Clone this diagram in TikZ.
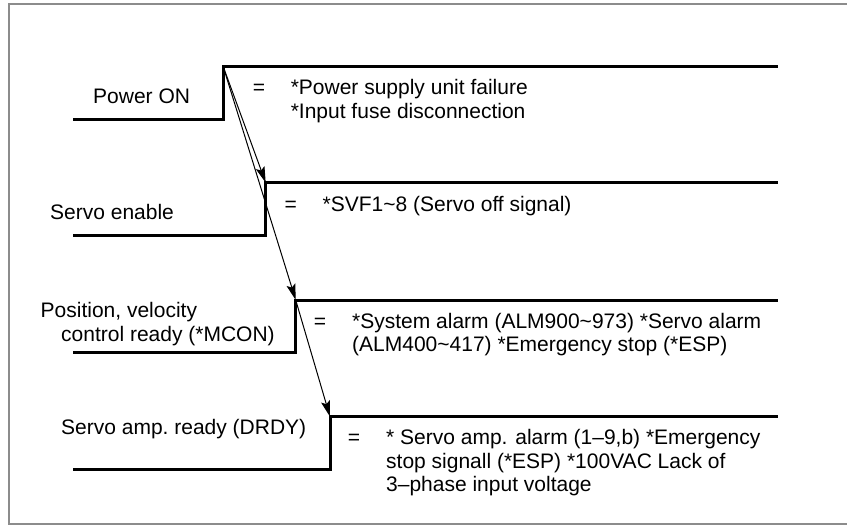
\documentclass[tikz,border=0pt]{standalone}
\usepackage{fontspec}
\setmainfont{Liberation Sans}
\usetikzlibrary{arrows.meta}
\begin{document}
\begin{tikzpicture}[x=1pt,y=-1pt,
  sig/.style={line width=3pt,line cap=butt,line join=miter},
  arr/.style={line width=1pt,-{Stealth[length=16pt,width=9pt,inset=3pt]}},
  frame/.style={draw=black!45,line width=2pt},
  txt/.style={inner sep=0pt,anchor=base west,align=left,font=\fontsize{21}{23.5}\selectfont},
  eq/.style={inner sep=0pt,anchor=base,font=\fontsize{21}{23.5}\selectfont}]
\useasboundingbox (0,0) rectangle (847,525);
\draw[frame] (9,860) -- (9,4) -- (860,4);
\draw[frame] (9,524) -- (860,524);
% signal 1: Power ON
\coordinate (a0) at (73,119);
\coordinate (a1) at (223,119);
\coordinate (a2) at (223,66);
\coordinate (a3) at (778,66);
\draw[sig] (a0) -- (a1) -- (a2) -- (a3);
% signal 2: Servo enable
\coordinate (b0) at (73,235.5);
\coordinate (b1) at (265.7,235.5);
\coordinate (b2) at (265.7,182.7);
\coordinate (b3) at (778,182.7);
\draw[sig] (b0) -- (b1) -- (b2) -- (b3);
% signal 3: Position, velocity control ready
\coordinate (c0) at (73,352.3);
\coordinate (c1) at (295.7,352.3);
\coordinate (c2) at (295.7,300);
\coordinate (c3) at (778,300);
\draw[sig] (c0) -- (c1) -- (c2) -- (c3);
% signal 4: Servo amp. ready
\coordinate (d0) at (73,469.3);
\coordinate (d1) at (330,469.3);
\coordinate (d2) at (330,416.7);
\coordinate (d3) at (778,416.7);
\draw[sig] (d0) -- (d1) -- (d2) -- (d3);
% arrows
\draw[arr] (a2) -- (b2);
\draw[arr] (a2) -- (c2);
\draw[arr] (c2) -- (d2);
% labels (base = baseline of the last line)
\node[txt] (la) at (93,103) {Power ON};
\node[txt] (lb) at (50,219) {Servo enable};
\node[txt] (lc) at (40.5,341) {Position, velocity\\\hspace*{20.5pt}control ready (*MCON)};
\node[txt] (ld) at (61,434) {Servo amp.\hspace{-2pt} ready (DRDY)};
% equals signs
\node[eq] (ea) at (259,94.5) {=};
\node[eq] (eb) at (290.7,211) {=};
\node[eq] (ec) at (320,328) {=};
\node[eq] (ed) at (354,444.5) {=};
% causes
\node[txt] (ta) at (290.6,118) {*Power supply unit failure\\*Input fuse disconnection};
\node[txt] (tb) at (322.5,211) {*SVF1\textasciitilde8 (Servo off signal)};
\node[txt] (tc) at (352,351.5) {*System alarm (ALM900\textasciitilde973) *Servo alarm\\(ALM400\textasciitilde417) *Emergency stop (*ESP)};
\node[txt] (td) at (386,491.5) {* Servo amp. alarm (1–9,b) *Emergency\\stop signall (*ESP) *100VAC Lack of\\3–phase input voltage};
\end{tikzpicture}
\end{document}
